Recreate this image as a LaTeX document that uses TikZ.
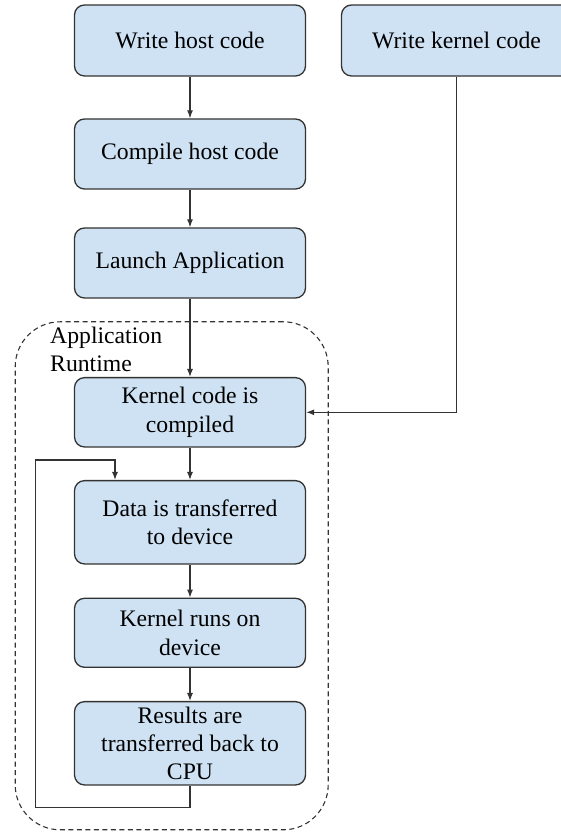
\documentclass[tikz,border=0pt]{standalone}
\usepackage{fontspec}
\setmainfont{Liberation Serif}
\newfontfamily\timesface{Liberation Serif}
\usepackage{tikz}
\usetikzlibrary{arrows,arrows.meta,shapes}
\definecolor{boxfill}{HTML}{CFE2F3}
\definecolor{boxline}{HTML}{333333}

\begin{document}
\begin{tikzpicture}[>={Latex[length=8bp,width=6bp]}]
      \tikzstyle{every node}=[font=\timesface\fontsize{23.7bp}{28.3bp}\selectfont, text=black]
      \tikzstyle{stepbox}=[draw=boxline, fill=boxfill, line width=1.3bp, rounded corners=10bp, align=center, inner sep=2bp, minimum width=231bp]
      \tikzstyle{flow}=[draw=boxline, line width=1.2bp]
      \useasboundingbox (0bp,0bp) rectangle (561bp,832bp);
      %%
  \node (runtime) at (171.7bp,256.2bp) [draw=boxline, dash pattern=on 5bp off 3.5bp, line width=1.1bp, rounded corners=45bp, minimum width=313bp, minimum height=508bp] {};
  \node (rtlabel) at (50bp,505bp) [anchor=north west, align=left, inner sep=0bp] {Application\\Runtime};
  \node (whost) at (190bp,791.5bp) [stepbox, minimum height=71bp] {Write host code};
  \node (wkernel) at (456.5bp,791.5bp) [stepbox, minimum height=71bp, minimum width=230bp] {Write kernel code};
  \node (chost) at (190bp,678bp) [stepbox, minimum height=70bp] {Compile host code};
  \node (launch) at (190bp,569bp) [stepbox, minimum height=70bp] {Launch Application};
  \node (kcomp) at (190bp,419.7bp) [stepbox, minimum height=69.3bp] {Kernel code is\\compiled};
  \node (data) at (190bp,309.7bp) [stepbox, minimum height=83.3bp] {Data is transferred\\to device};
  \node (kruns) at (190bp,199.2bp) [stepbox, minimum height=69bp] {Kernel runs on\\device};
  \node (results) at (190bp,88.7bp) [stepbox, minimum height=83.3bp] {Results are\\transferred back to\\CPU};
  \coordinate (loopbl) at (35.5bp,24.3bp);
  \coordinate (loopin) at (115bp,372bp);
  \draw [flow,->] (whost) -- (chost);
  \draw [flow,->] (chost) -- (launch);
  \draw [flow,->] (launch) -- (kcomp);
  \draw [flow,->] (kcomp) -- (data);
  \draw [flow,->] (data) -- (kruns);
  \draw [flow,->] (kruns) -- (results);
  \draw [flow,->] (wkernel.south) |- (kcomp.east);
  \draw [flow,->] (results.south) |- (loopbl) |- (loopin) -- (loopin |- data.north);
%

    \end{tikzpicture}
\end{document}
